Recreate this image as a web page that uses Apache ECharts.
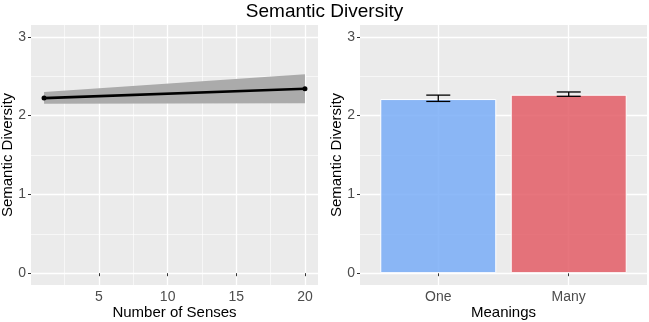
<!DOCTYPE html>
<html><head><meta charset="utf-8">
<script src="https://cdn.jsdelivr.net/npm/echarts@6/dist/echarts.min.js"></script>
<style>html,body{margin:0;padding:0;background:#fff}#c{width:649px;height:322px}</style>
</head><body><div id="c"></div>
<script>
// ---- data ----
var senseX = [1, 20];
var senseFit = [2.222, 2.34];
var senseLo = [2.15, 2.158];
var senseHi = [2.30, 2.526];
var senseTicks = [5, 10, 15, 20];
var senseMinor = [2.5, 7.5, 12.5, 17.5];
var yTicks = [0, 1, 2, 3];
var yMinor = [0.5, 1.5, 2.5];
var categories = ['One', 'Many'];
var meanVals = [2.21, 2.265];
var errLo = [2.18, 2.245];
var errHi = [2.26, 2.30];
var barColors = ['rgba(121,173,247,0.85)', 'rgba(227,93,102,0.85)'];

var FONT = '"Liberation Sans", Arial, sans-serif';
var catPos = categories.map(function (c, i) { return i + 1; });

function majorSplit() { return { show: true, lineStyle: { color: '#FFFFFF', width: 1.3 } }; }
function minorSplit() { return { show: true, lineStyle: { color: '#FFFFFF', width: 0.6 } }; }

var tickStyle = { show: true, length: 3, lineStyle: { color: '#333333', width: 1 } };
var labelStyle = { color: '#4D4D4D', fontSize: 14, fontFamily: FONT };
var nameStyle = { color: '#000000', fontSize: 15, fontFamily: FONT };

function yMajor(grid) {
  return {
    type: 'value', gridIndex: grid, min: -0.15, max: 3.15,
    name: 'Semantic Diversity', nameLocation: 'middle', nameGap: 16, nameMoveOverlap: false, nameTextStyle: nameStyle,
    axisLine: { show: false }, axisTick: Object.assign({ customValues: yTicks }, tickStyle),
    axisLabel: Object.assign({ customValues: yTicks, margin: 5 }, labelStyle),
    splitLine: majorSplit()
  };
}
function yMin(grid) {
  return {
    type: 'value', gridIndex: grid, min: -0.15, max: 3.15,
    axisLine: { show: false }, axisTick: { show: false, customValues: yMinor },
    axisLabel: { show: false, customValues: yMinor }, splitLine: minorSplit()
  };
}

var option = {
  animation: false,
  backgroundColor: '#FFFFFF',
  title: {
    text: 'Semantic Diversity', left: 'center', top: -3,
    textStyle: { color: '#000000', fontSize: 19, fontWeight: 'normal', fontFamily: FONT }
  },
  grid: [
    { left: 31, right: 331, top: 25, bottom: 37, show: true, backgroundColor: '#EBEBEB', borderWidth: 0, outerBoundsMode: 'none', containLabel: false },
    { left: 360, right: 2, top: 25, bottom: 37, show: true, backgroundColor: '#EBEBEB', borderWidth: 0, outerBoundsMode: 'none', containLabel: false }
  ],
  xAxis: [
    {
      type: 'value', gridIndex: 0, min: 0.05, max: 20.95,
      name: 'Number of Senses', nameLocation: 'middle', nameGap: 20, nameMoveOverlap: false, nameTextStyle: nameStyle,
      axisLine: { show: false }, axisTick: Object.assign({ customValues: senseTicks }, tickStyle),
      axisLabel: Object.assign({ customValues: senseTicks, margin: 5 }, labelStyle),
      splitLine: majorSplit()
    },
    {
      type: 'value', gridIndex: 0, min: 0.05, max: 20.95,
      axisLine: { show: false }, axisTick: { show: false, customValues: senseMinor },
      axisLabel: { show: false, customValues: senseMinor }, splitLine: minorSplit()
    },
    {
      type: 'value', gridIndex: 1, min: 0.4, max: 2.6,
      name: 'Meanings', nameLocation: 'middle', nameGap: 20, nameMoveOverlap: false, nameTextStyle: nameStyle,
      axisLine: { show: false }, axisTick: Object.assign({ customValues: catPos }, tickStyle),
      axisLabel: Object.assign({
        customValues: catPos, margin: 5,
        formatter: function (v) { return categories[Math.round(v) - 1] || ''; }
      }, labelStyle),
      splitLine: majorSplit()
    }
  ],
  yAxis: [yMajor(0), yMin(0), yMajor(1), yMin(1)],
  series: [
    {
      type: 'custom', xAxisIndex: 0, yAxisIndex: 0, z: 2,
      data: senseX.map(function (x, i) { return [x, senseLo[i], senseHi[i]]; }),
      renderItem: function (params, api) {
        if (params.dataIndex !== 0) return null;
        var pts = [];
        for (var i = 0; i < senseX.length; i++) pts.push(api.coord([senseX[i], senseHi[i]]));
        for (var j = senseX.length - 1; j >= 0; j--) pts.push(api.coord([senseX[j], senseLo[j]]));
        return { type: 'polygon', shape: { points: pts }, style: { fill: '#ABABAB' } };
      }
    },
    {
      type: 'line', xAxisIndex: 0, yAxisIndex: 0, z: 3,
      data: senseX.map(function (x, i) { return [x, senseFit[i]]; }),
      symbol: 'circle', symbolSize: 5, showSymbol: true,
      lineStyle: { color: '#000000', width: 2.6 }, itemStyle: { color: '#000000' }
    },
    {
      type: 'bar', xAxisIndex: 2, yAxisIndex: 2, barWidth: 116, z: 2,
      data: meanVals.map(function (v, i) {
        return { value: [catPos[i], v], itemStyle: { color: barColors[i], borderColor: '#FFFFFF', borderWidth: 1 } };
      })
    },
    {
      type: 'custom', xAxisIndex: 2, yAxisIndex: 2, z: 4,
      data: meanVals.map(function (v, i) { return [catPos[i], errLo[i], errHi[i]]; }),
      renderItem: function (params, api) {
        var lo = api.coord([api.value(0), api.value(1)]);
        var hi = api.coord([api.value(0), api.value(2)]);
        var w = 12;
        var st = { stroke: '#000000', lineWidth: 1.3 };
        return {
          type: 'group', children: [
            { type: 'line', shape: { x1: lo[0], y1: lo[1], x2: hi[0], y2: hi[1] }, style: st },
            { type: 'line', shape: { x1: lo[0] - w, y1: lo[1], x2: lo[0] + w, y2: lo[1] }, style: st },
            { type: 'line', shape: { x1: hi[0] - w, y1: hi[1], x2: hi[0] + w, y2: hi[1] }, style: st }
          ]
        };
      }
    }
  ]
};
var chart = echarts.init(document.getElementById('c'), null, { renderer: 'canvas' });
chart.setOption(option);
</script></body></html>
